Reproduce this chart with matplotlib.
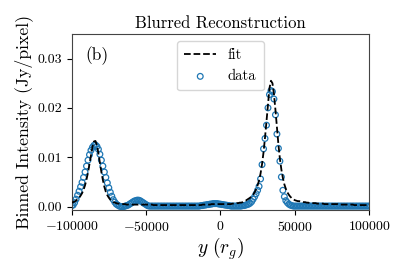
import matplotlib
matplotlib.use('Agg')
import matplotlib.pyplot as plt
import numpy as np

plt.rcParams['font.family'] = 'cmr10'
plt.rcParams['mathtext.fontset'] = 'cm'
plt.rcParams['axes.formatter.use_mathtext'] = True

# grid of y positions (r_g), 1000 apart
y_pos = np.arange(-100000, 100001, 1000)

# binned intensity of the blurred image (circles)
data = [
    0.0002, 0.0003, 0.0008, 0.0015, 0.0023, 0.0031, 0.0040, 0.0049, 0.0059, 0.0070,
    0.0082, 0.0094, 0.0105, 0.0114, 0.0120, 0.0124, 0.0125, 0.0122, 0.0116, 0.0106,
    0.0094, 0.0082, 0.0070, 0.0059, 0.0048, 0.0038, 0.0029, 0.0021, 0.0014, 0.0009,
    0.0005, 0.0003, 0.0001, 0.0000, 0.0000, 0.0000, 0.0001, 0.0002, 0.0003, 0.0005,
    0.0007, 0.0009, 0.0011, 0.0012, 0.0013, 0.0013, 0.0012, 0.0010, 0.0008, 0.0006,
    0.0004, 0.0002, 0.0001, 0.0001, 0.0001, 0.0001, 0.0001, 0.0001, 0.0001, 0.0001,
    0.0001, 0.0001, 0.0001, 0.0001, 0.0001, 0.0001, 0.0001, 0.0001, 0.0001, 0.0001,
    0.0001, 0.0001, 0.0001, 0.0001, 0.0001, 0.0001, 0.0001, 0.0001, 0.0001, 0.0001,
    0.0001, 0.0001, 0.0001, 0.0001, 0.0001, 0.0001, 0.0001, 0.0002, 0.0002, 0.0003,
    0.0003, 0.0004, 0.0004, 0.0005, 0.0005, 0.0006, 0.0006, 0.0006, 0.0006, 0.0005,
    0.0005, 0.0004, 0.0004, 0.0003, 0.0003, 0.0002, 0.0002, 0.0001, 0.0001, 0.0001,
    0.0001, 0.0001, 0.0001, 0.0001, 0.0001, 0.0002, 0.0002, 0.0003, 0.0004, 0.0005,
    0.0007, 0.0010, 0.0015, 0.0020, 0.0026, 0.0033, 0.0041, 0.0056, 0.0085, 0.0117,
    0.0138, 0.0165, 0.0200, 0.0227, 0.0235, 0.0233, 0.0218, 0.0186, 0.0147, 0.0118,
    0.0092, 0.0060, 0.0033, 0.0020, 0.0012, 0.0008, 0.0005, 0.0003, 0.0002, 0.0001,
    0.0001, 0.0001, 0.0001, 0.0001, 0.0001, 0.0001, 0.0001, 0.0001, 0.0001, 0.0001,
    0.0001, 0.0001, 0.0001, 0.0001, 0.0001, 0.0001, 0.0001, 0.0001, 0.0001, 0.0001,
    0.0001, 0.0001, 0.0001, 0.0001, 0.0001, 0.0001, 0.0001, 0.0001, 0.0001, 0.0001,
    0.0001, 0.0001, 0.0001, 0.0001, 0.0001, 0.0001, 0.0001, 0.0001, 0.0001, 0.0001,
    0.0001, 0.0001, 0.0001, 0.0001, 0.0001, 0.0001, 0.0001, 0.0001, 0.0001, 0.0001,
    0.0001,
]

# model fit (dashed line)
fit = [
    0.0008, 0.0009, 0.0010, 0.0012, 0.0015, 0.0018, 0.0022, 0.0027, 0.0034, 0.0043,
    0.0055, 0.0069, 0.0086, 0.0104, 0.0121, 0.0132, 0.0133, 0.0124, 0.0108, 0.0089,
    0.0070, 0.0054, 0.0040, 0.0030, 0.0023, 0.0018, 0.0014, 0.0011, 0.0009, 0.0008,
    0.0007, 0.0006, 0.0006, 0.0005, 0.0005, 0.0005, 0.0005, 0.0004, 0.0004, 0.0004,
    0.0004, 0.0004, 0.0004, 0.0004, 0.0004, 0.0004, 0.0004, 0.0004, 0.0004, 0.0004,
    0.0004, 0.0004, 0.0004, 0.0004, 0.0004, 0.0003, 0.0003, 0.0003, 0.0003, 0.0003,
    0.0003, 0.0003, 0.0003, 0.0003, 0.0003, 0.0003, 0.0003, 0.0003, 0.0003, 0.0003,
    0.0003, 0.0003, 0.0003, 0.0003, 0.0003, 0.0003, 0.0003, 0.0003, 0.0003, 0.0003,
    0.0003, 0.0003, 0.0003, 0.0003, 0.0003, 0.0003, 0.0003, 0.0003, 0.0004, 0.0004,
    0.0004, 0.0004, 0.0004, 0.0004, 0.0005, 0.0005, 0.0005, 0.0005, 0.0005, 0.0005,
    0.0005, 0.0005, 0.0005, 0.0005, 0.0005, 0.0005, 0.0005, 0.0005, 0.0006, 0.0006,
    0.0006, 0.0007, 0.0007, 0.0008, 0.0008, 0.0009, 0.0011, 0.0012, 0.0014, 0.0016,
    0.0018, 0.0021, 0.0024, 0.0029, 0.0035, 0.0043, 0.0053, 0.0067, 0.0086, 0.0110,
    0.0140, 0.0174, 0.0210, 0.0240, 0.0255, 0.0250, 0.0228, 0.0196, 0.0160, 0.0126,
    0.0097, 0.0075, 0.0058, 0.0045, 0.0036, 0.0029, 0.0024, 0.0020, 0.0017, 0.0015,
    0.0013, 0.0012, 0.0011, 0.0011, 0.0010, 0.0010, 0.0009, 0.0009, 0.0008, 0.0008,
    0.0007, 0.0007, 0.0007, 0.0007, 0.0007, 0.0006, 0.0006, 0.0006, 0.0006, 0.0006,
    0.0005, 0.0005, 0.0005, 0.0005, 0.0005, 0.0005, 0.0005, 0.0005, 0.0005, 0.0005,
    0.0004, 0.0004, 0.0004, 0.0004, 0.0004, 0.0004, 0.0004, 0.0004, 0.0004, 0.0004,
    0.0003, 0.0003, 0.0003, 0.0003, 0.0003, 0.0003, 0.0003, 0.0003, 0.0003, 0.0003,
    0.0003,
]

fig = plt.figure(figsize=(4.07, 2.71), dpi=100)
ax = fig.add_axes([0.176, 0.225, 0.731, 0.650])

ax.plot(y_pos, fit, 'k--', lw=1.3, label='fit', zorder=3)
ax.scatter(y_pos, data, s=17, facecolors='none', edgecolors='#1f77b4',
           linewidths=0.9, label='data', zorder=2)

ax.set_xlim(-100000, 100000)
ax.set_ylim(-0.0007, 0.035)
ax.set_xticks([-100000, -50000, 0, 50000, 100000])
ax.set_yticks([0.0, 0.01, 0.02, 0.03])
ax.set_yticklabels(['0.00', '0.01', '0.02', '0.03'])
ax.tick_params(labelsize=10, length=3.5, width=0.8)
for sp in ax.spines.values():
    sp.set_linewidth(0.8)
    sp.set_color('#444444')

ax.set_title('Blurred Reconstruction', fontsize=12, pad=4)
ax.set_xlabel(r'$y\ (r_g)$', fontsize=14, labelpad=1)
ax.set_ylabel('Binned Intensity (Jy/pixel)', fontsize=12.8, labelpad=3)
ax.text(0.045, 0.93, '(b)', transform=ax.transAxes, fontsize=12.5,
        ha='left', va='top')
ax.legend(loc='upper center', fontsize=10.5, frameon=True, handlelength=2.2,
          borderpad=0.5, labelspacing=0.5)

fig.savefig('out.png', dpi=100)
